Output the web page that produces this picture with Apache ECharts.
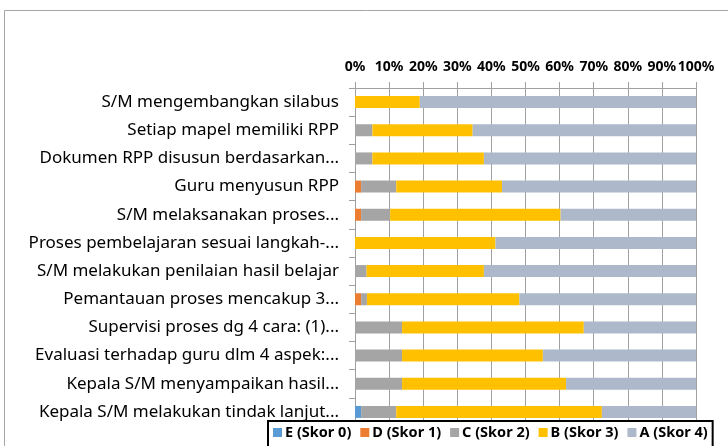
<!DOCTYPE html>
<html>
<head>
<meta charset="utf-8">
<script src="https://cdn.jsdelivr.net/npm/echarts@6/dist/echarts.min.js"></script>
<style>
  html, body { margin: 0; padding: 0; background: #fff; }
  #chart { width: 728px; height: 446px; }
</style>
</head>
<body>
<div id="chart"></div>
<script>
//== category labels, top to bottom
var categories = [
    'S/M mengembangkan silabus',
    'Setiap mapel memiliki RPP',
    'Dokumen RPP disusun berdasarkan...',
    'Guru menyusun RPP',
    'S/M melaksanakan proses...',
    'Proses pembelajaran sesuai langkah-...',
    'S/M melakukan penilaian hasil belajar',
    'Pemantauan proses mencakup 3...',
    'Supervisi proses dg 4 cara: (1)...',
    'Evaluasi terhadap guru dlm 4 aspek:...',
    'Kepala S/M menyampaikan hasil...',
    'Kepala S/M melakukan tindak lanjut...'
];

//== percentages per score
var skorE = [0, 0, 0, 0, 0, 0, 0, 0, 0, 0, 0, 1.8];
var skorD = [0, 0, 0, 1.8, 1.8, 0, 0, 1.8, 0, 0, 0, 0];
var skorC = [0, 5.1, 5.1, 10.3, 8.5, 0, 3.4, 1.7, 13.8, 13.8, 13.8, 10.3];
var skorB = [19.0, 29.4, 32.7, 31.0, 50.0, 41.2, 34.4, 44.7, 53.3, 41.3, 48.1, 60.3];
var skorA = [81.0, 65.5, 62.2, 56.9, 39.7, 58.8, 62.2, 51.8, 32.9, 44.9, 38.1, 27.6];

var seriesNames = ['E (Skor 0)', 'D (Skor 1)', 'C (Skor 2)', 'B (Skor 3)', 'A (Skor 4)'];
var seriesColors = ['#5B9BD5', '#ED7D31', '#A5A5A5', '#FFC000', '#ADB9CA'];
var seriesData = [skorE, skorD, skorC, skorB, skorA];

var font = 'Noto Sans';

var myChart = echarts.init(document.getElementById('chart'));

var series = [];
for (var i = 0; i < seriesNames.length; i++) {
    series.push({
        name: seriesNames[i],
        type: 'bar',
        stack: 'total',
        barWidth: 12,
        itemStyle: { color: seriesColors[i] },
        data: seriesData[i]
    });
}

myChart.setOption({
    animation: false,
    textStyle: { fontFamily: font },
    graphic: [{
        type: 'rect',
        shape: { x: 4.5, y: 10.5, width: 760, height: 460 },
        style: { fill: 'none', stroke: '#A6A6A6', lineWidth: 1 },
        silent: true,
        z: -10
    }],
    grid: {
        left: 355,
        right: 32,
        top: 88,
        bottom: 20,
        containLabel: false
    },
    legend: {
        data: seriesNames,
        left: 268,
        top: 421,
        width: 470,
        padding: [4, 5, 8, 5],
        borderColor: '#000',
        borderWidth: 2,
        backgroundColor: '#fff',
        itemWidth: 9,
        itemHeight: 9,
        itemGap: 9,
        icon: 'rect',
        textStyle: {
            fontFamily: font,
            fontSize: 14.5,
            fontWeight: 'bold',
            color: '#000',
            padding: [0, 0, 0, -2]
        },
        z: 10
    },
    xAxis: {
        type: 'value',
        position: 'top',
        min: 0,
        max: 100,
        interval: 10,
        axisLine: { show: true, lineStyle: { color: '#A0A0A0' } },
        axisTick: { show: true, length: 6, lineStyle: { color: '#A0A0A0' } },
        splitLine: { show: true, lineStyle: { color: '#A0A0A0', width: 1 } },
        axisLabel: {
            formatter: '{value}%',
            fontFamily: font,
            fontSize: 14,
            fontWeight: 'bold',
            color: '#000',
            margin: 14,
            showMinLabel: true,
            showMaxLabel: true,
            hideOverlap: false
        }
    },
    yAxis: {
        type: 'category',
        inverse: true,
        data: categories,
        axisLine: { show: true, lineStyle: { color: '#A0A0A0' } },
        axisTick: { show: true, length: 6, lineStyle: { color: '#A0A0A0' } },
        axisLabel: {
            fontFamily: font,
            fontSize: 17,
            color: '#000',
            margin: 16
        }
    },
    series: series
});
</script>
</body>
</html>
